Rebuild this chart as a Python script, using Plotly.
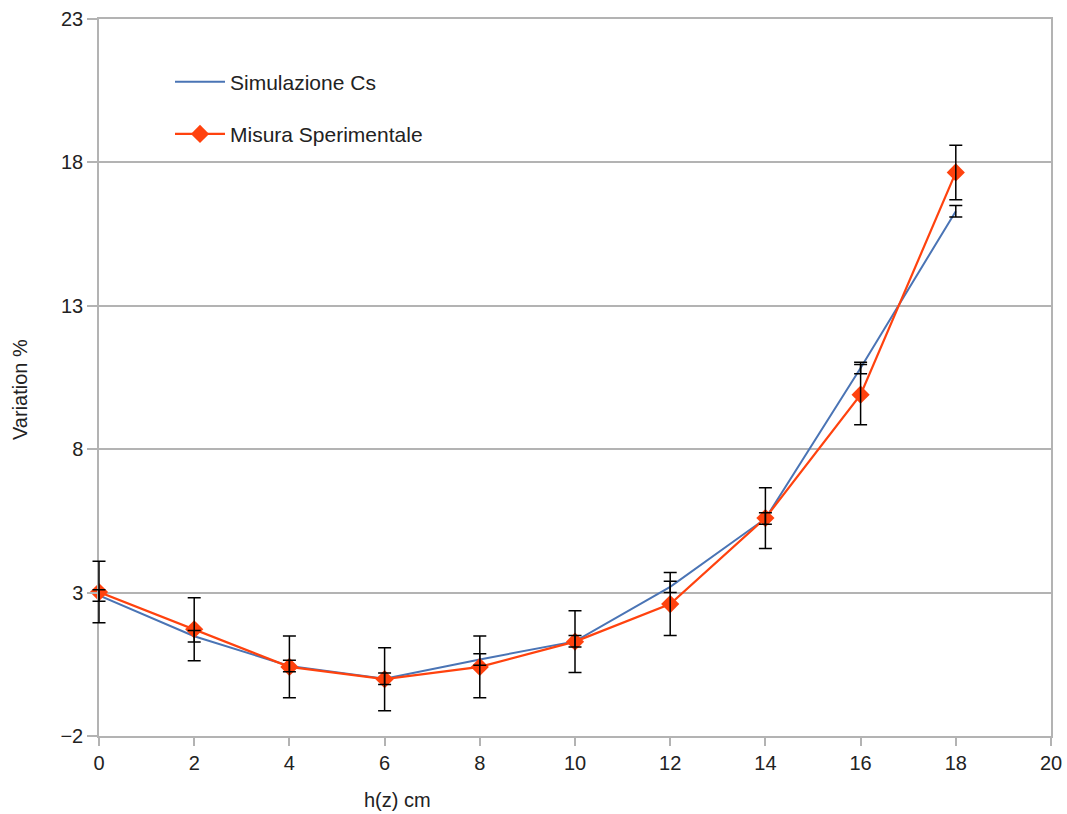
import plotly.graph_objects as go

# Height h(z) in cm
h_cm = [0, 2, 4, 6, 8, 10, 12, 14, 16, 18]

# Simulated variation (%) and its uncertainty
sim_cs = [2.9, 1.48, 0.44, 0.0, 0.67, 1.30, 3.2, 5.58, 10.83, 16.3]
sim_err = [0.2, 0.2, 0.2, 0.2, 0.2, 0.2, 0.2, 0.2, 0.2, 0.2]

# Measured variation (%) and its uncertainty
mis_sp = [3.02, 1.72, 0.41, -0.02, 0.41, 1.29, 2.60, 5.60, 9.90, 17.65]
mis_err = [1.07, 1.1, 1.08, 1.1, 1.08, 1.08, 1.1, 1.06, 1.05, 0.95]

x_ticks = [0, 2, 4, 6, 8, 10, 12, 14, 16, 18, 20]
y_ticks = [-2, 3, 8, 13, 18, 23]
X_RANGE = [0, 20]
Y_RANGE = [-2, 23]

FONT = "Liberation Sans, Arial, sans-serif"
GRID = "#b3b3b3"
TEXT = "#222222"

# Page geometry (px)
WIDTH, HEIGHT = 1067, 814
PAD = 12                      # extra room left of the y axis for the error caps
L, R, T, B = 99 - PAD, 16, 19, 78
W = WIDTH - L - R
H = HEIGHT - T - B
d0 = PAD / W                  # start of the main x-axis domain


def px_x(p):
    return (p - L) / W


def px_y(p):
    return 1 - (p - T) / H


# Companion axes spanning the padded area, scaled so that data values land on
# the same pixels as on the main axes; the error bars live there so the caps
# at h = 0 are not clipped by the main plot area.
x2_left = X_RANGE[0] - (X_RANGE[1] - X_RANGE[0]) * d0 / (1 - d0)

fig = go.Figure()

fig.add_trace(go.Scatter(
    x=h_cm, y=sim_cs, name="Simulazione Cs", mode="lines",
    line=dict(color="#4a74b5", width=2),
    legendgroup="sim", cliponaxis=False,
))

fig.add_trace(go.Scatter(
    x=h_cm, y=mis_sp, name="Misura Sperimentale", mode="lines+markers",
    line=dict(color="#ff420e", width=2.2),
    marker=dict(symbol="diamond", size=14, color="#ff420e"),
    legendgroup="mis", cliponaxis=False,
))

for vals, errs in ((sim_cs, sim_err), (mis_sp, mis_err)):
    fig.add_trace(go.Scatter(
        x=h_cm, y=vals, xaxis="x2", yaxis="y2", mode="markers",
        marker=dict(size=1, color="rgba(0,0,0,0)"),
        error_y=dict(type="data", array=errs, visible=True,
                     color="#000000", thickness=1.5, width=6.5),
        showlegend=False, hoverinfo="skip",
    ))

fig.update_layout(
    width=WIDTH, height=HEIGHT,
    margin=dict(l=L, r=R, t=T, b=B, autoexpand=False),
    paper_bgcolor="white", plot_bgcolor="rgba(0,0,0,0)",
    font=dict(family=FONT, size=20, color=TEXT),
    showlegend=True,
    legend=dict(
        x=px_x(170), y=px_y(61.5), xanchor="left", yanchor="top",
        bgcolor="rgba(0,0,0,0)", font=dict(size=21, color=TEXT),
        traceorder="grouped", tracegroupgap=22, itemwidth=50,
    ),
    xaxis=dict(
        domain=[d0, 1], range=X_RANGE, tickvals=x_ticks, showgrid=False,
        showline=True, linecolor=GRID, linewidth=1.5, mirror=True,
        ticks="outside", tickcolor=GRID, ticklen=8, tickwidth=1.5,
        zeroline=False, tickfont=dict(size=20), automargin=False,
    ),
    yaxis=dict(
        range=Y_RANGE, tickvals=y_ticks, showgrid=True,
        gridcolor=GRID, gridwidth=1.5,
        showline=True, linecolor=GRID, linewidth=1.5, mirror=True,
        ticks="outside", tickcolor=GRID, ticklen=10, tickwidth=1.5,
        zeroline=False, tickfont=dict(size=20), automargin=False,
    ),
    xaxis2=dict(
        domain=[0, 1], range=[x2_left, X_RANGE[1]], visible=False,
        anchor="y2", showgrid=False, zeroline=False, automargin=False,
    ),
    yaxis2=dict(
        domain=[0, 1], range=Y_RANGE, visible=False,
        anchor="x2", showgrid=False, zeroline=False, automargin=False,
    ),
    annotations=[
        dict(text="h(z) cm", xref="paper", yref="paper",
             x=px_x(397), y=px_y(800), xanchor="center", yanchor="middle",
             showarrow=False, font=dict(size=20, color=TEXT)),
        dict(text="Variation %", xref="paper", yref="paper",
             x=px_x(20), y=px_y(390), xanchor="center", yanchor="middle",
             textangle=-90, showarrow=False,
             font=dict(size=20, color=TEXT)),
    ],
)

fig.write_html("out.html")
